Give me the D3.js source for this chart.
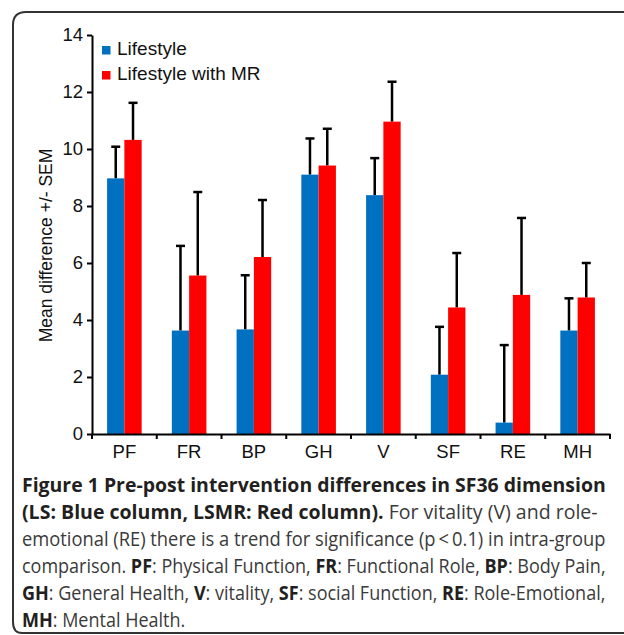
<!DOCTYPE html>
<html>
<head>
<meta charset="utf-8">
<script src="https://cdn.jsdelivr.net/npm/d3@7"></script>
<style>
  body { margin: 0; background: #fff; }
  svg { display: block; }
</style>
</head>
<body>
<div id="chart"></div>
<script>
// SF36 dimensions
const categories = ["PF", "FR", "BP", "GH", "V", "SF", "RE", "MH"];
const seriesNames = ["Lifestyle", "Lifestyle with MR"];
const lifestyle = [8.97, 3.63, 3.67, 9.10, 8.38, 2.08, 0.40, 3.63];
const lifestyleSem = [1.11, 2.97, 1.90, 1.27, 1.30, 1.68, 2.72, 1.13];
const lifestyleMR = [10.32, 5.56, 6.21, 9.42, 10.96, 4.44, 4.88, 4.79];
const lifestyleMRSem = [1.30, 2.93, 2.00, 1.29, 1.40, 1.91, 2.70, 1.21];
const yTicks = [0, 2, 4, 6, 8, 10, 12, 14];

const colors = ["#0070c0", "#ff0000"];

const width = 624, height = 635;
const margin = { top: 35, left: 92, right: 14, bottom: 201 };
const plotW = width - margin.left - margin.right,
    plotH = height - margin.top - margin.bottom;

const svg = d3.select("#chart")
    .append("svg")
    .attr("width", width)
    .attr("height", height);

// frame round the figure (runs off the right side)
svg.append("path")
    .attr("d", "M640,12 H26 Q13,12 13,25 V622 Q13,633 22,633 H640")
    .attr("fill", "none")
    .attr("stroke", "#333")
    .attr("stroke-width", 2);

const g = svg.append("g")
    .attr("transform", `translate(${margin.left}, ${margin.top})`);

const x = d3.scaleBand()
    .domain(categories)
    .range([0, plotW]);

const xs = d3.scaleBand()
    .domain([0, 1])
    .range([x.bandwidth() * 0.233, x.bandwidth() * 0.767]);

const y = d3.scaleLinear()
    .domain([0, 14])
    .range([plotH, 0]);

const rows = categories.map((c, i) => ({
    cat: c,
    vals: [
        { s: 0, v: lifestyle[i], e: lifestyleSem[i] },
        { s: 1, v: lifestyleMR[i], e: lifestyleMRSem[i] }
    ]
}));

const groups = g.append("g")
    .selectAll("g")
    .data(rows)
    .join("g")
    .attr("transform", d => `translate(${x(d.cat)}, 0)`);

// error bars (upper half only), drawn under the bars
groups.selectAll("line.err")
    .data(d => d.vals)
    .join("line")
    .attr("class", "err")
    .attr("x1", d => xs(d.s) + xs.bandwidth() / 2)
    .attr("x2", d => xs(d.s) + xs.bandwidth() / 2)
    .attr("y1", d => y(d.v))
    .attr("y2", d => y(d.v + d.e))
    .attr("stroke", "#000")
    .attr("stroke-width", 2.5);

groups.selectAll("line.cap")
    .data(d => d.vals)
    .join("line")
    .attr("class", "cap")
    .attr("x1", d => xs(d.s) + xs.bandwidth() / 2 - 4.5)
    .attr("x2", d => xs(d.s) + xs.bandwidth() / 2 + 4.5)
    .attr("y1", d => y(d.v + d.e))
    .attr("y2", d => y(d.v + d.e))
    .attr("stroke", "#000")
    .attr("stroke-width", 2.5);

groups.selectAll("rect")
    .data(d => d.vals)
    .join("rect")
    .attr("x", d => xs(d.s))
    .attr("width", xs.bandwidth())
    .attr("y", d => y(d.v))
    .attr("height", d => y(0) - y(d.v))
    .attr("fill", d => colors[d.s]);

const axisFont = "'Liberation Sans', Arial, sans-serif";

// Y axis
const yAxis = g.append("g")
    .call(d3.axisLeft(y).tickValues(yTicks).tickSize(5).tickSizeOuter(0).tickPadding(4));
yAxis.select(".domain").attr("stroke-width", 2);
yAxis.selectAll(".tick line").attr("stroke-width", 2);
yAxis.selectAll("text")
    .attr("font-family", axisFont)
    .attr("font-size", 18.5)
    .attr("fill", "#111");

// X axis: labels at band centres, ticks on the band edges
const xAxis = g.append("g")
    .attr("transform", `translate(0, ${plotH})`)
    .call(d3.axisBottom(x).tickSize(0).tickSizeOuter(0).tickPadding(11));
xAxis.select(".domain").attr("stroke-width", 2);
xAxis.selectAll("text")
    .attr("font-family", axisFont)
    .attr("font-size", 18.5)
    .attr("fill", "#111");
xAxis.selectAll("line.edge")
    .data(categories.map(c => x(c)).concat([plotW]))
    .join("line")
    .attr("class", "edge")
    .attr("x1", d => d).attr("x2", d => d)
    .attr("y1", 0).attr("y2", 5)
    .attr("stroke", "#000")
    .attr("stroke-width", 2);

// Y axis title
svg.append("text")
    .attr("transform", `translate(52, ${margin.top + plotH / 2 + 11}) rotate(-90)`)
    .attr("text-anchor", "middle")
    .attr("font-family", axisFont)
    .attr("font-size", 17.5)
    .attr("fill", "#111")
    .text("Mean difference +/- SEM");

// legend
const legend = svg.append("g")
    .selectAll("g")
    .data(seriesNames)
    .join("g")
    .attr("transform", (d, i) => `translate(102, ${46 + i * 25})`);
legend.append("rect")
    .attr("width", 8.5).attr("height", 8.5)
    .attr("fill", (d, i) => colors[i]);
legend.append("text")
    .attr("x", 15).attr("y", 9)
    .attr("font-family", axisFont)
    .attr("font-size", 19)
    .attr("fill", "#111")
    .text(d => d);

// caption, each line a list of [text, bold]
const captionLines = [
    [["Figure 1 Pre-post intervention differences in SF36 dimension", true]],
    [["(LS: Blue column, LSMR: Red column).", true], [" For vitality (V) and role-", false]],
    [["emotional (RE) there is a trend for significance (p\u2009<\u20090.1) in intra-group", false]],
    [["comparison. ", false], ["PF", true], [": Physical Function, ", false], ["FR", true],
     [": Functional Role, ", false], ["BP", true], [": Body Pain,", false]],
    [["GH", true], [": General Health, ", false], ["V", true], [": vitality, ", false],
     ["SF", true], [": social Function, ", false], ["RE", true], [": Role-Emotional,", false]],
    [["MH", true], [": Mental Health.", false]]
];

const capX = 22, capTop = 492, capStep = 27;
const capEnds = [606, 598, 606, 606, 606, null];
const cap = svg.append("g")
    .attr("font-family", "'Open Sans', sans-serif")
    .attr("font-size", 20);

// the original face is narrower than Open Sans: squeeze each line to its width
let squeeze = 1;
captionLines.forEach((line, i) => {
    const row = cap.append("g");
    const t = row.append("text");
    line.forEach(([s, b]) => {
        t.append("tspan")
            .attr("font-weight", b ? 700 : 400)
            .attr("fill", b ? "#231f20" : "#3a3a3a")
            .text(s);
    });
    const w = t.node().getComputedTextLength();
    if (capEnds[i] !== null) {
        if (i === 4) squeeze = (capEnds[i] - capX) / w;
        row.attr("transform", `translate(${capX}, ${capTop + i * capStep}) scale(${(capEnds[i] - capX) / w}, 1)`);
    } else {
        row.attr("transform", `translate(${capX}, ${capTop + i * capStep}) scale(${squeeze}, 1)`);
    }
});
</script>
</body>
</html>
